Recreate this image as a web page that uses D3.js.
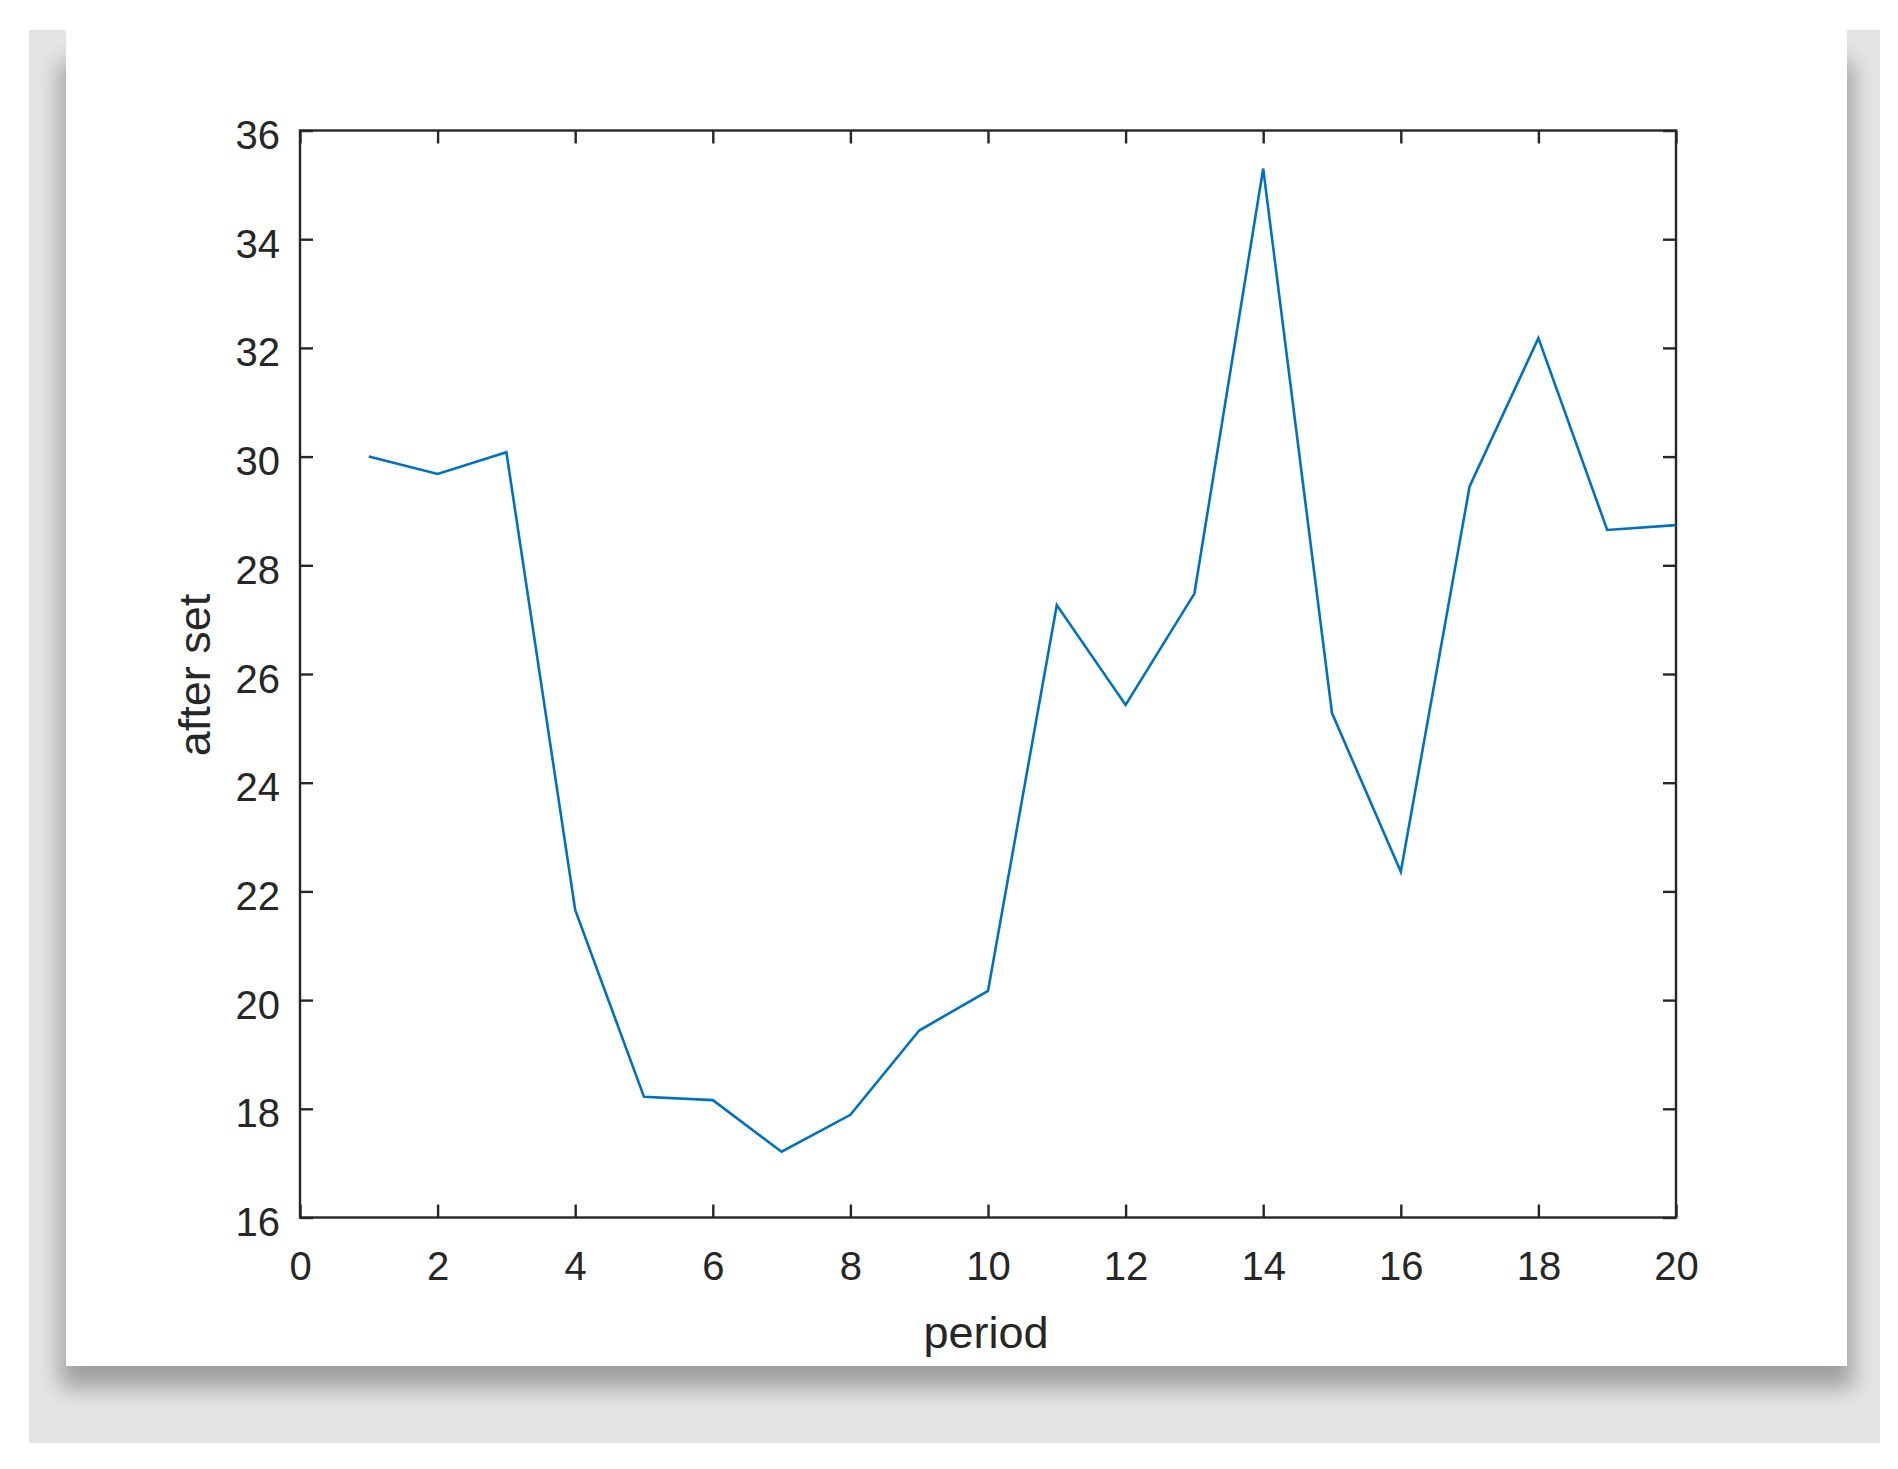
<!DOCTYPE html>
<html>
<head>
<meta charset="utf-8">
<script src="https://cdn.jsdelivr.net/npm/d3@7"></script>
<style>
  html, body { margin: 0; padding: 0; background: #ffffff; }
  svg { display: block; }
  text { font-family: "Liberation Sans", Arial, Helvetica, sans-serif; fill: #262626; }
</style>
</head>
<body>
<script>
// ---- data ----
const periods = [1, 2, 3, 4, 5, 6, 7, 8, 9, 10, 11, 12, 13, 14, 15, 16, 17, 18, 19, 20];
const afterSet = [30.0, 29.68, 30.08, 21.66, 18.22, 18.16, 17.21, 17.89, 19.44, 20.17,
                  27.27, 25.43, 27.48, 35.30, 25.28, 22.36, 29.45, 32.18, 28.65, 28.74];
const xTicks = [0, 2, 4, 6, 8, 10, 12, 14, 16, 18, 20];
const yTicks = [16, 18, 20, 22, 24, 26, 28, 30, 32, 34, 36];
const xLabel = "period";
const yLabel = "after set";

(function () {
const W = 1898, H = 1469;
const svg = d3.select("body").append("svg").attr("width", W).attr("height", H);

// ---- frame / card with shadow ----
const defs = svg.append("defs");
const f = defs.append("filter").attr("id", "blur")
  .attr("x", -0.1).attr("y", -0.1).attr("width", 1.2).attr("height", 1.2);
f.append("feGaussianBlur").attr("stdDeviation", 11);

svg.append("rect").attr("x", 29).attr("y", 30).attr("width", 1851).attr("height", 1413).attr("fill", "#e4e4e4");
svg.append("rect").attr("x", 60).attr("y", 62).attr("width", 1793).attr("height", 1326)
  .attr("fill", "#000").attr("opacity", 0.3).attr("filter", "url(#blur)");
svg.append("rect").attr("x", 66).attr("y", 0).attr("width", 1781).attr("height", 1366).attr("fill", "#ffffff");

// ---- plot ----
const pL = 300, pR = 1676, pT = 130.5, pB = 1217.5;
const x = d3.scaleLinear().domain([0, 20]).range([pL, pR]);
const y = d3.scaleLinear().domain([16, 36]).range([pB, pT]);
const axisColor = "#262626";
const tickLen = 13;

function style(g) {
  g.select(".domain").remove();
  g.selectAll(".tick line").attr("stroke", axisColor).attr("stroke-width", 2.4);
  g.selectAll(".tick text").attr("fill", axisColor).style("font-size", "40px")
    .style("font-family", '"Liberation Sans", Arial, sans-serif');
}

svg.append("g").attr("transform", `translate(0,${pB})`)
  .call(d3.axisBottom(x).tickValues(xTicks).tickSizeInner(-tickLen).tickSizeOuter(0).tickPadding(34).tickFormat(d3.format("d")))
  .call(style);
svg.append("g").attr("transform", `translate(0,${pT})`)
  .call(d3.axisTop(x).tickValues(xTicks).tickSizeInner(-tickLen).tickSizeOuter(0).tickFormat(""))
  .call(style);
const gy = svg.append("g").attr("transform", `translate(${pL},0)`)
  .call(d3.axisLeft(y).tickValues(yTicks).tickSizeInner(-tickLen).tickSizeOuter(0).tickPadding(20).tickFormat(d3.format("d")))
  .call(style);
gy.selectAll(".tick text").attr("dy", "18px");
svg.append("g").attr("transform", `translate(${pR},0)`)
  .call(d3.axisRight(y).tickValues(yTicks).tickSizeInner(-tickLen).tickSizeOuter(0).tickFormat(""))
  .call(style);

// box
svg.append("rect").attr("x", pL).attr("y", pT).attr("width", pR - pL).attr("height", pB - pT)
  .attr("fill", "none").attr("stroke", axisColor).attr("stroke-width", 2.4);

// data line
const line = d3.line().x((d, i) => x(periods[i])).y(d => y(d));
svg.append("path").datum(afterSet).attr("d", line)
  .attr("fill", "none").attr("stroke", "#0072BD").attr("stroke-width", 2.6).attr("stroke-linejoin", "miter");

// axis labels
svg.append("text").attr("x", (pL + pR) / 2 - 2).attr("y", 1348).attr("text-anchor", "middle")
  .style("font-size", "45px").text(xLabel);
svg.append("text").attr("transform", `translate(210,${(pT + pB) / 2 + 1}) rotate(-90)`)
  .attr("text-anchor", "middle").style("font-size", "45px").text(yLabel);
})();
</script>
</body>
</html>
